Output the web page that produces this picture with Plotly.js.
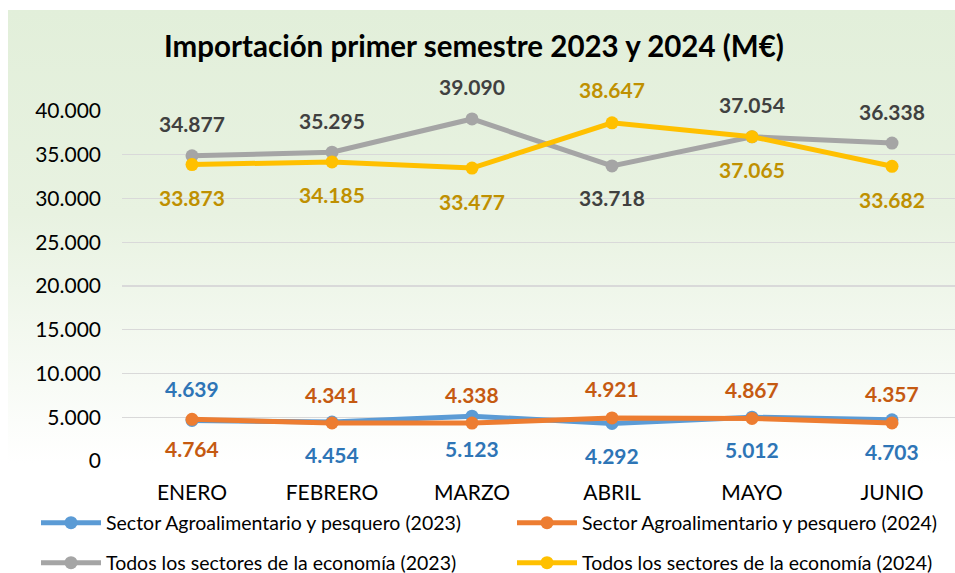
<!DOCTYPE html>
<html>
<head>
<meta charset="utf-8">
<script src="https://cdn.plot.ly/plotly-3.0.1.min.js"></script>
<style>
  html, body { margin: 0; padding: 0; background: #ffffff; }
  #wrap { position: relative; width: 955px; height: 573px; }
  #bg { position: absolute; left: 8px; top: 10px; width: 947px; height: 453px;
        background: linear-gradient(to bottom, #e2efda 0%, #e8f2e1 45%, #ffffff 100%); }
  #chart { position: absolute; left: 0; top: 0; width: 955px; height: 573px; }
</style>
</head>
<body>
<div id="wrap"><div id="bg"></div><div id="chart"></div></div>
<script>
// ---- data ----
const months = ["ENERO", "FEBRERO", "MARZO", "ABRIL", "MAYO", "JUNIO"];
const agro2023 = [4639, 4454, 5123, 4292, 5012, 4703];
const agro2024 = [4764, 4341, 4338, 4921, 4867, 4357];
const todos2023 = [34877, 35295, 39090, 33718, 37054, 36338];
const todos2024 = [33873, 34185, 33477, 38647, 37065, 33682];
const seriesNames = [
  "Sector Agroalimentario y pesquero (2023)",
  "Sector Agroalimentario y pesquero (2024)",
  "Todos los sectores de la economía (2023)",
  "Todos los sectores de la economía (2024)"
];
const yTickVals = [0, 5000, 10000, 15000, 20000, 25000, 30000, 35000, 40000];

// ---- styles ----
const FONT = "Lato, 'Noto Sans', sans-serif";
const lineColors = ["#5b9bd5", "#ed7d31", "#a5a5a5", "#ffc000"];
const labelColors = ["#2e75b6", "#c55a11", "#404040", "#bf9000"];
// label side: +1 above, -1 below
const labelSide = [
  [1, -1, -1, -1, -1, -1],
  [-1, 1, 1, 1, 1, 1],
  [1, 1, 1, -1, 1, 1],
  [-1, -1, -1, 1, -1, -1]
];
const labelOffset = [32, 29, 32, 33];
const allSeries = [agro2023, agro2024, todos2023, todos2024];
const legendIds = ["legend", "legend2", "legend3", "legend4"];
const legendPos = [[36, 523], [512, 523], [36, 563], [512, 563]];

function fmt(v) {
  return v.toString().replace(/\B(?=(\d{3})+(?!\d))/g, ".");
}

const traces = allSeries.map((vals, i) => ({
  type: "scatter",
  mode: "lines+markers",
  x: months,
  y: vals,
  name: seriesNames[i],
  legend: legendIds[i],
  line: { color: lineColors[i], width: 5 },
  marker: { color: lineColors[i], size: 13 },
  cliponaxis: false,
  hoverinfo: "skip"
}));

const annotations = [];
allSeries.forEach((vals, i) => {
  vals.forEach((v, j) => {
    annotations.push({
      x: months[j], y: v, xref: "x", yref: "y",
      text: fmt(v), showarrow: false,
      yshift: labelSide[i][j] * labelOffset[i],
      font: { family: FONT, size: 21, color: labelColors[i], weight: 700 }
    });
  });
});

const layout = {
  width: 955, height: 573,
  paper_bgcolor: "rgba(0,0,0,0)",
  plot_bgcolor: "rgba(0,0,0,0)",
  margin: { l: 122, r: 0, t: 111, b: 112 },
  separators: ",.",
  title: {
    text: "<b>Importación primer semestre 2023 y 2024 (M€)</b>",
    font: { family: FONT, size: 29.5, color: "#000000" },
    x: 474 / 955, xanchor: "center", xref: "container",
    y: 1 - 47 / 573, yanchor: "middle", yref: "container"
  },
  xaxis: {
    type: "category",
    range: [-0.5, 5.45],
    showgrid: false, zeroline: false, showline: false,
    ticks: "", ticklabelstandoff: 17,
    tickfont: { family: FONT, size: 21, color: "#000000" }
  },
  yaxis: {
    range: [0, 40000],
    tickvals: yTickVals,
    tickformat: ",d",
    showgrid: true, gridcolor: "#d9d9d9", gridwidth: 1.3,
    zeroline: false, showline: false, ticks: "",
    ticklabelstandoff: 20,
    tickfont: { family: FONT, size: 21, color: "#000000" }
  },
  showlegend: true,
  annotations: annotations
};
legendIds.forEach((id, i) => {
  layout[id] = {
    orientation: "h", xref: "container", yref: "container",
    x: legendPos[i][0] / 955, xanchor: "left",
    y: 1 - legendPos[i][1] / 573, yanchor: "middle",
    itemwidth: 60,
    bgcolor: "rgba(0,0,0,0)",
    font: { family: FONT, size: 19.5, color: "#000000" }
  };
});

Plotly.newPlot("chart", traces, layout, { displayModeBar: false, staticPlot: true });
</script>
</body>
</html>
